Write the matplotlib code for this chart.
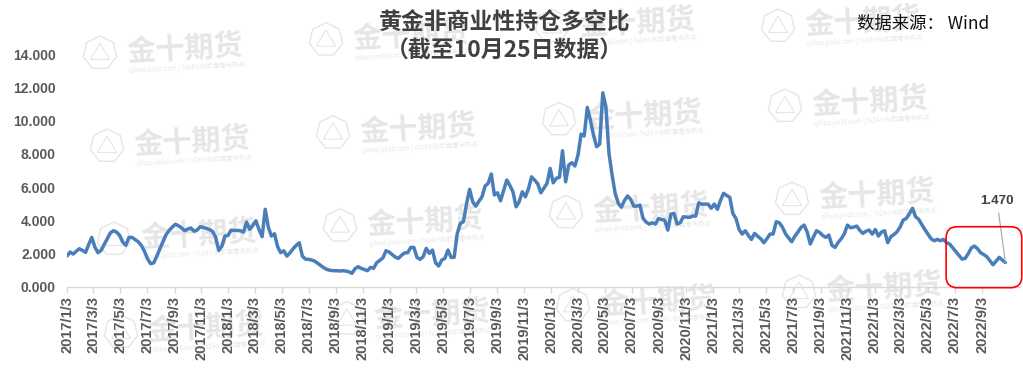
import matplotlib
matplotlib.use('Agg')
import matplotlib.pyplot as plt
from matplotlib.patches import FancyBboxPatch, RegularPolygon
from matplotlib.ticker import FixedLocator, FuncFormatter
import matplotlib.dates as mdates
import numpy as np
import pandas as pd

# ---------------- data ----------------
start_date = '2017-01-03'
end_date = '2022-10-25'
ratio_values = [
    1.86, 2.10, 1.98, 2.15, 2.30, 2.20, 2.08, 2.55, 2.98, 2.40,
    2.06, 2.20, 2.55, 2.90, 3.25, 3.38, 3.30, 3.10, 2.70, 2.50,
    2.98, 2.98, 2.85, 2.72, 2.50, 2.15, 1.70, 1.40, 1.45, 1.85,
    2.30, 2.72, 3.15, 3.40, 3.60, 3.77, 3.68, 3.55, 3.38, 3.48,
    3.55, 3.35, 3.42, 3.62, 3.58, 3.52, 3.45, 3.34, 2.98, 2.20,
    2.45, 3.06, 3.10, 3.42, 3.40, 3.40, 3.38, 3.30, 3.90, 3.46,
    3.70, 3.98, 3.45, 3.02, 4.67, 3.60, 3.06, 3.20, 2.42, 2.06,
    2.18, 1.86, 2.05, 2.30, 2.50, 2.66, 1.85, 1.68, 1.66, 1.62,
    1.55, 1.42, 1.28, 1.15, 1.05, 1.00, 0.98, 0.98, 0.96, 0.98,
    0.96, 0.92, 0.82, 1.10, 1.22, 1.12, 1.05, 0.98, 1.18, 1.12,
    1.46, 1.60, 1.75, 2.18, 2.10, 1.95, 1.80, 1.72, 1.90, 2.05,
    2.06, 2.38, 2.38, 1.78, 1.66, 1.82, 2.32, 2.02, 2.22, 1.46,
    1.26, 1.62, 1.72, 2.22, 1.78, 1.78, 3.20, 3.82, 3.92, 5.00,
    5.87, 5.12, 4.86, 5.15, 5.42, 6.07, 6.23, 6.79, 5.53, 5.66,
    5.18, 5.80, 6.43, 6.10, 5.72, 4.82, 5.12, 5.72, 5.42, 5.90,
    6.62, 6.42, 6.20, 5.66, 5.95, 6.23, 7.13, 6.26, 6.53, 6.59,
    8.19, 6.32, 7.33, 7.47, 7.27, 7.93, 9.19, 9.07, 10.79, 10.03,
    9.13, 8.43, 8.59, 11.67, 10.83, 8.03, 6.73, 5.63, 5.03, 4.79,
    5.20, 5.47, 5.27, 4.86, 4.86, 4.92, 4.12, 3.90, 3.78, 3.86,
    3.78, 4.12, 4.05, 4.02, 3.42, 4.38, 4.42, 3.78, 3.86, 4.22,
    4.20, 4.18, 4.26, 4.26, 5.06, 4.98, 4.98, 4.98, 4.73, 4.98,
    4.67, 5.20, 5.63, 5.50, 5.39, 4.42, 4.12, 3.46, 3.18, 3.38,
    3.10, 2.86, 3.22, 3.05, 2.90, 2.66, 2.90, 3.18, 3.18, 3.92,
    3.86, 3.60, 3.20, 2.95, 2.72, 3.05, 3.30, 3.58, 3.72, 3.30,
    2.58, 3.00, 3.38, 3.28, 3.10, 2.98, 3.12, 2.50, 2.38, 2.68,
    2.90, 3.20, 3.72, 3.56, 3.60, 3.66, 3.40, 3.22, 3.35, 3.42,
    3.18, 3.45, 3.06, 3.30, 3.38, 2.66, 3.02, 3.15, 3.32, 3.60,
    4.02, 4.12, 4.40, 4.73, 4.22, 4.07, 3.75, 3.45, 3.18, 2.90,
    2.78, 2.86, 2.78, 2.86, 2.66, 2.58, 2.35, 2.12, 1.90, 1.68,
    1.72, 2.00, 2.35, 2.46, 2.30, 2.06, 1.95, 1.82, 1.58, 1.34,
    1.55, 1.78, 1.62, 1.47,
]
y_ticks = [0, 2, 4, 6, 8, 10, 12, 14]
title_line1 = '黄金非商业性持仓多空比'
title_line2 = '（截至10月25日数据）'
source_text = '数据来源： Wind'
last_label = '1.470'
highlight_start = '2022-06-13'
highlight_end = '2022-12-01'
highlight_low, highlight_high = -0.04, 3.62
watermark_text = '金十期货'
watermark_sub = 'qihuo.jin10.com | 7x24小时盯盘看市热点'

dates = pd.date_range(start_date, periods=len(ratio_values), freq='7D')
tick_dates = pd.date_range(start_date, end_date, freq=pd.DateOffset(months=2))

# ---------------- figure ----------------
W, H = 1023, 368
fig = plt.figure(figsize=(W / 100, H / 100), dpi=100)
fig.patch.set_facecolor('white')

CJK = ['Noto Sans CJK SC', 'DejaVu Sans']
NUM = ['Liberation Sans', 'DejaVu Sans']

# watermarks (behind everything)
wm_color = '#e6e6e6'
for r in range(0, 4):
    for c in range(0, 4):
        px = 127 + 226 * c + 7 * r
        py = max(52 - 13.3 * c + 93 * r, 25)
        fig.text(px / W, 1 - py / H, watermark_text, family=CJK, fontsize=21,
                 fontweight='bold', color=wm_color, ha='left', va='center',
                 rotation=3.3, rotation_mode='anchor', zorder=-5)
        fig.text((px + 2) / W, 1 - (py + 19) / H, watermark_sub, family=CJK,
                 fontsize=4.5, color=wm_color, ha='left', va='center',
                 rotation=3.3, rotation_mode='anchor', zorder=-5)
        cx, cy = (px - 27) / 100, (H - py - 1) / 100
        fig.patches.append(RegularPolygon((cx, cy), numVertices=7, radius=0.17,
                                          transform=fig.dpi_scale_trans,
                                          facecolor='none', edgecolor=wm_color,
                                          lw=1.0, zorder=-5))
        fig.patches.append(RegularPolygon((cx, cy - 0.01), numVertices=3, radius=0.11,
                                          transform=fig.dpi_scale_trans,
                                          facecolor='none', edgecolor=wm_color,
                                          lw=0.8, zorder=-5))

ax_left, ax_right = 67, 1020
ax_top, ax_bottom = 54, 287
ax = fig.add_axes([ax_left / W, (H - ax_bottom) / H,
                   (ax_right - ax_left) / W, (ax_bottom - ax_top) / H])
ax.set_facecolor('none')

ax.plot(dates, ratio_values, color='#4a7ebb', lw=2.5, solid_joinstyle='round',
        solid_capstyle='round', zorder=3)

ax.set_ylim(0, 14)
ax.set_xlim(dates[0], dates[-1] + pd.Timedelta(days=33))

ax.set_yticks(y_ticks)
ax.yaxis.set_major_formatter(FuncFormatter(lambda v, p: f'{v:.3f}'))
ax.xaxis.set_major_locator(FixedLocator(mdates.date2num(tick_dates)))
ax.xaxis.set_major_formatter(FuncFormatter(
    lambda v, p: (lambda d: f'{d.year}/{d.month}/{d.day}')(mdates.num2date(v))))

for s in ['top', 'right', 'left']:
    ax.spines[s].set_visible(False)
ax.spines['bottom'].set_color('#d9d9d9')
ax.spines['bottom'].set_linewidth(1.0)

ax.tick_params(axis='y', length=0, pad=8, labelcolor='#595959')
ax.tick_params(axis='x', length=4, width=1.0, color='#d9d9d9', pad=2.5,
               labelcolor='#595959')
for lab in ax.get_yticklabels():
    lab.set_family(NUM)
    lab.set_fontsize(10)
    lab.set_fontweight('bold')
for lab in ax.get_xticklabels():
    lab.set_family(NUM)
    lab.set_fontsize(10.5)
    lab.set_fontweight('bold')
    lab.set_rotation(90)
    lab.set_ha('center')
    lab.set_va('top')

# titles
fig.text(505 / W, 1 - 23 / H, title_line1, family=CJK, fontsize=16.5,
         fontweight='bold', color='#404040', ha='center', va='center')
fig.text(504 / W, 1 - 51 / H, title_line2, family=CJK, fontsize=16.5,
         fontweight='bold', color='#404040', ha='center', va='center')
fig.text(857 / W, 1 - 24 / H, source_text, family=CJK, fontsize=12.5,
         color='#111111', ha='left', va='center')

# annotation of the last value
ax.annotate(last_label, xy=(dates[-1], ratio_values[-1]),
            xytext=(-6, 44), textcoords='offset points',
            ha='center', va='center', fontsize=9.5, fontweight='bold',
            family=NUM, color='#404040',
            arrowprops=dict(arrowstyle='-', color='#a6a6a6', lw=0.8,
                            shrinkA=2, shrinkB=0), zorder=4)

# red highlight box (rounded), computed from data coords
fig.canvas.draw()
p0 = ax.transData.transform((mdates.date2num(pd.Timestamp(highlight_start)), highlight_low))
p1 = ax.transData.transform((mdates.date2num(pd.Timestamp(highlight_end)), highlight_high))
inv = fig.dpi_scale_trans.inverted()
i0 = inv.transform(p0)
i1 = inv.transform(p1)
box = FancyBboxPatch((i0[0], i0[1]), i1[0] - i0[0], i1[1] - i0[1],
                     boxstyle='round,pad=0,rounding_size=0.11',
                     transform=fig.dpi_scale_trans, facecolor='none',
                     edgecolor='#ff0000', lw=1.2, zorder=5)
fig.patches.append(box)

fig.savefig('out.png', dpi=100, facecolor='white')
